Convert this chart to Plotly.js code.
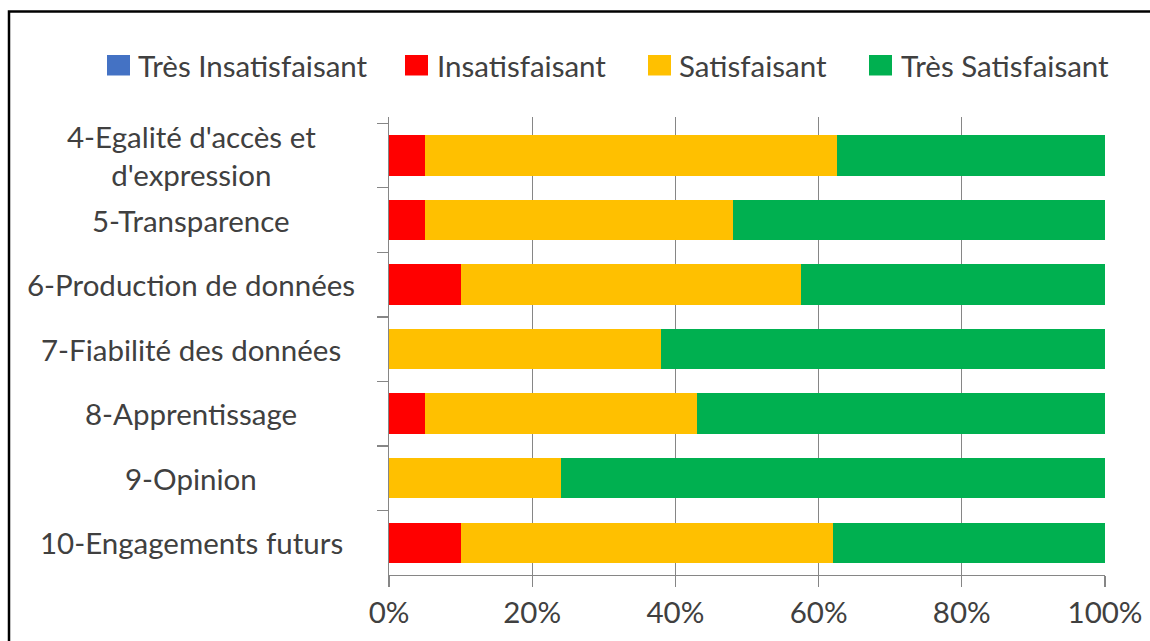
<!DOCTYPE html>
<html><head><meta charset="utf-8">
<script src="https://cdn.plot.ly/plotly-3.0.1.min.js"></script>
<style>html,body{margin:0;padding:0;background:#fff}#chart{width:1150px;height:641px}</style>
</head><body><div id="chart"></div>
<script>
const categories = ["4-Egalité d'accès et<br>d'expression","5-Transparence","6-Production de données","7-Fiabilité des données","8-Apprentissage","9-Opinion","10-Engagements futurs"];
const seriesNames = ["Très Insatisfaisant","Insatisfaisant","Satisfaisant","Très Satisfaisant"];
const tresInsatisfaisant = [0,0,0,0,0,0,0];
const insatisfaisant = [5,5,10,0,5,0,10];
const satisfaisant = [57.5,43,47.5,38,38,24,52];
const tresSatisfaisant = [37.5,52,42.5,62,57,76,38];
const xTickVals = [0,20,40,60,80,100];
const xTickText = ["0%","20%","40%","60%","80%","100%"];
const colors = ["#4472C4","#FF0000","#FFC000","#00B050"];

const FONT = "Lato, 'Open Sans', sans-serif";
const FS = 29.5;
const TXT = "#404040";
const AX = "#868686";
const L = 389, R = 1105, T = 117, B = 575;
const px2x = p => (p - L) / (R - L);
const py2y = p => (B - p) / (B - T);

const seriesValues = [tresInsatisfaisant, insatisfaisant, satisfaisant, tresSatisfaisant];
const traces = seriesValues.map((vals, i) => ({
  type: 'bar', orientation: 'h', name: seriesNames[i],
  x: vals, y: categories, marker: {color: colors[i]}, showlegend: false,
  hoverinfo: 'x+y+name'
}));

const annotations = categories.map(c => ({
  text: c, x: px2x(191), xref: 'paper', y: c, yref: 'y',
  xanchor: 'center', yanchor: 'middle', align: 'center', showarrow: false,
  font: {family: FONT, size: FS, color: TXT}
}));

const legSquareX = [107, 405, 648, 869];
const legTextX = [136, 435, 677, 899];
const shapes = [];
seriesNames.forEach((n, i) => {
  shapes.push({type: 'rect', xref: 'paper', yref: 'paper',
    x0: px2x(legSquareX[i]), x1: px2x(legSquareX[i] + 23),
    y0: py2y(75.5), y1: py2y(55), fillcolor: colors[i], line: {width: 0}});
  annotations.push({text: n, xref: 'paper', yref: 'paper', x: px2x(legTextX[i]), y: py2y(66),
    xanchor: 'left', yanchor: 'middle', showarrow: false,
    font: {family: FONT, size: FS, color: TXT}});
});
shapes.push({type: 'rect', xref: 'paper', yref: 'paper',
  x0: px2x(9), x1: px2x(1180), y0: py2y(670), y1: py2y(11.5),
  line: {color: '#000', width: 2.5}, fillcolor: 'rgba(0,0,0,0)', layer: 'above'});

const layout = {
  width: 1150, height: 641,
  margin: {l: L, r: 1150 - R, t: T, b: 641 - B},
  barmode: 'stack', bargap: 0.375,
  paper_bgcolor: '#fff', plot_bgcolor: '#fff',
  showlegend: false,
  font: {family: FONT, color: TXT},
  xaxis: {range: [0, 100], tickvals: xTickVals, ticktext: xTickText,
    showgrid: true, gridcolor: AX, gridwidth: 1.3, zeroline: false,
    showline: true, linecolor: AX, linewidth: 1.3,
    ticks: 'outside', ticklen: 11, tickcolor: AX, tickwidth: 1.3,
    tickfont: {family: FONT, size: FS, color: TXT}, fixedrange: true},
  yaxis: {type: 'category', autorange: 'reversed', showticklabels: false,
    showgrid: false, zeroline: false, showline: true, linecolor: AX, linewidth: 1.3,
    ticks: 'outside', tickson: 'boundaries', ticklen: 11, tickcolor: AX, tickwidth: 1.3,
    fixedrange: true},
  annotations: annotations, shapes: shapes
};
Plotly.newPlot('chart', traces, layout, {displayModeBar: false, staticPlot: true});
</script></body></html>
